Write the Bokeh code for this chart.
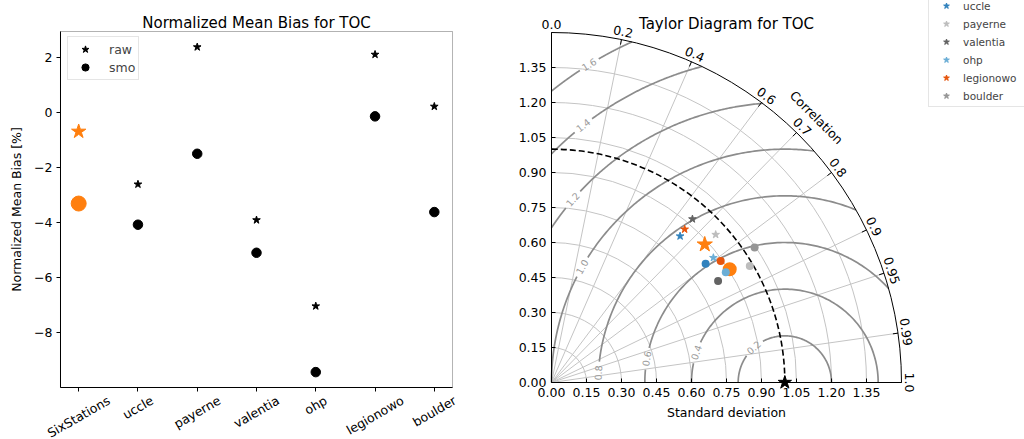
import numpy as np
from bokeh.plotting import figure
from bokeh.layouts import row
from bokeh.models import (ColumnDataSource, FactorRange, Range1d, FixedTicker, Label,
                          Legend, LegendItem, PrintfTickFormatter, BoxAnnotation)
from bokeh.core.properties import value
from bokeh.embed import file_html
from bokeh.resources import INLINE

FONT = "DejaVu Sans"

# ---------------- data ----------------
stations = ["SixStations", "uccle", "payerne", "valentia", "ohp", "legionowo", "boulder"]
nmb_raw = [-0.68, -2.60, 2.39, -3.90, -7.03, 2.12, 0.23]
nmb_smo = [-3.30, -4.07, -1.49, -5.09, -9.43, -0.13, -3.61]
nmb_ticks = [-8, -6, -4, -2, 0, 2]

# Taylor diagram: normalized standard deviation and correlation
std_raw = [0.884, 0.835, 0.947, 0.925, 0.876, 0.870, 0.880]
corr_raw = [0.743, 0.660, 0.743, 0.653, 0.792, 0.656, 0.745]
std_smo = [0.905, 0.834, 0.986, 0.836, 0.884, 0.893, 1.045]
corr_smo = [0.844, 0.792, 0.862, 0.854, 0.845, 0.812, 0.833]
ref_std = 1.0
std_max = 1.5
std_ticks = [0.00, 0.15, 0.30, 0.45, 0.60, 0.75, 0.90, 1.05, 1.20, 1.35]
corr_ticks = [0.0, 0.2, 0.4, 0.6, 0.7, 0.8, 0.9, 0.95, 0.99, 1.0]
rms_levels = [0.2, 0.4, 0.6, 0.8, 1.0, 1.2, 1.4, 1.6]

# ---------------- styles / layout ----------------
station_colors = ["#ff7f0e", "#3182bd", "#bdbdbd", "#636363", "#6baed6", "#e6550d", "#969696"]
rms_label_angle_deg = [131.6, 161.3, 170.2, 177.0, 150.3, 139.2, 128.1, 121.6]
TICK_FS = "12.5px"
H = 439                 # canvas height (frames fill the whole page)

# left panel geometry (bias axes box: y from -9.989 to 2.956, 31 px below the top)
B_BOT, B_TOP = -9.989, 2.956
PXY1 = 27.5             # px per % unit
W1 = 512
X_PAD = 0.819           # factor-range padding so the box spans 392 px of the 512 px frame
BOX_L, BOX_R = 0.193, 6.807
Y1_END = B_TOP + 31 / PXY1
Y1_START = Y1_END - H / PXY1

# Taylor geometry: origin at (39 px, 57 px) from the frame's left / bottom
PX = 233.333            # px per std unit
W2 = 512
T_X0, T_X1 = -39 / PX, (W2 - 39) / PX
T_Y0, T_Y1 = -57 / PX, (H - 57) / PX

# DejaVu Sans advance widths (em) for label layout estimates
CW = {"S": .635, "i": .278, "x": .592, "t": .392, "a": .613, "o": .612, "n": .634, "s": .521,
      "u": .634, "c": .550, "l": .278, "e": .615, "p": .635, "y": .592, "r": .411, "v": .592,
      "h": .634, "g": .635, "w": .818, "b": .635, "d": .635, "0": .636, "1": .636, "2": .636,
      "4": .636, "6": .636, "8": .636, ".": .318}


def text_em(s):
    return sum(CW.get(ch, 0.6) for ch in s)


def style_axis(ax):
    ax.major_label_text_font = FONT
    ax.major_label_text_font_size = TICK_FS
    ax.major_label_text_color = "black"
    ax.axis_label_text_font = FONT
    ax.axis_label_text_font_size = TICK_FS
    ax.axis_label_text_font_style = "normal"
    ax.axis_label_text_color = "black"
    ax.axis_line_color = "black"
    ax.major_tick_line_color = "black"
    ax.minor_tick_line_color = None


# =============== Left: normalized mean bias ===============
p1 = figure(x_range=FactorRange(factors=stations, range_padding=X_PAD, range_padding_units="absolute"),
            y_range=Range1d(Y1_START, Y1_END),
            frame_width=W1, frame_height=H,
            min_border_left=0, min_border_right=0, min_border_top=0, min_border_bottom=0,
            toolbar_location=None, output_backend="svg")
p1.grid.visible = False
p1.outline_line_color = None

for ax in (p1.xaxis[0], p1.yaxis[0]):
    style_axis(ax)
    ax.major_tick_out = 4
    ax.major_tick_in = 0
p1.xaxis.fixed_location = B_BOT
p1.xaxis.bounds = (BOX_L, BOX_R)
p1.xaxis.major_label_text_color = None
p1.yaxis.fixed_location = BOX_L
p1.yaxis.bounds = (B_BOT, B_TOP)
p1.yaxis.ticker = FixedTicker(ticks=nmb_ticks)
p1.yaxis.major_label_overrides = {t: (str(t).replace("-", "\u2212")) for t in nmb_ticks}
p1.yaxis.major_label_standoff = 4
p1.yaxis.axis_label = "Normalized Mean Bias [%]"
p1.yaxis.axis_label_standoff = 7

p1.add_layout(BoxAnnotation(left=BOX_L, right=BOX_R, bottom=B_BOT, top=B_TOP,
                            fill_alpha=0, line_color="black", line_width=1))

p1.add_layout(Label(x=3.5, y=B_TOP + 8.3 / PXY1, text="Normalized Mean Bias for TOC",
                    text_align="center", text_baseline="alphabetic", text_font=FONT,
                    text_font_size="15px", text_color="black"))

colors1 = [station_colors[0]] + ["black"] * (len(stations) - 1)
src1 = ColumnDataSource(dict(st=stations, raw=nmb_raw, smo=nmb_smo, color=colors1,
                             s_raw=[15] + [8] * (len(stations) - 1),
                             s_smo=[15] + [9.5] * (len(stations) - 1)))
r_raw1 = p1.scatter("st", "raw", source=src1, marker="star", size="s_raw",
                    fill_color="color", line_color="color")
r_smo1 = p1.scatter("st", "smo", source=src1, marker="circle", size="s_smo",
                    fill_color="color", line_color="color")

# rotated category labels, centred under their ticks (matplotlib-like)
fs = 12.5
lab_y = [B_BOT - (5.5 + (text_em(s) * fs * 0.5 + 14.5 * 0.866) / 2) / PXY1 for s in stations]
p1.text(x=stations, y=lab_y, text=stations, angle=np.pi / 6, text_align="center",
        text_baseline="middle", text_font=value(FONT), text_font_size=TICK_FS, text_color="black")

leg1 = Legend(items=[LegendItem(label="raw", renderers=[r_raw1], index=1),
                     LegendItem(label="smo", renderers=[r_smo1], index=1)],
              location=(67, H - 80), padding=3, spacing=0,
              glyph_width=28, glyph_height=18, label_height=18, label_standoff=10,
              label_text_font=FONT, label_text_font_size=TICK_FS,
              border_line_color="#cccccc", background_fill_alpha=0.8)
p1.add_layout(leg1)

# =============== Right: Taylor diagram ===============
p2 = figure(x_range=Range1d(T_X0, T_X1), y_range=Range1d(T_Y0, T_Y1),
            frame_width=W2, frame_height=H,
            min_border_left=0, min_border_right=0, min_border_top=0, min_border_bottom=0,
            toolbar_location=None, output_backend="svg")
p2.grid.visible = False
p2.outline_line_color = None

for ax in (p2.xaxis[0], p2.yaxis[0]):
    style_axis(ax)
    ax.fixed_location = 0
    ax.bounds = (0, std_max)
    ax.ticker = FixedTicker(ticks=std_ticks)
    ax.formatter = PrintfTickFormatter(format="%.2f")
    ax.major_tick_in = 4
    ax.major_tick_out = 0
p2.xaxis.axis_label = "Standard deviation"

# std-dev grid arcs and correlation rays
p2.arc(x=0, y=0, radius=std_ticks[1:], start_angle=0, end_angle=np.pi / 2,
       line_color="#c4c4c4", line_width=1)
th = np.arccos(np.array(corr_ticks))
p2.segment(x0=0, y0=0, x1=std_max * np.cos(th), y1=std_max * np.sin(th),
           line_color="#c4c4c4", line_width=1)

# RMS contours around the reference point
cxs, cys, lx, ly, la, lt = [], [], [], [], [], []
for R, phid in zip(rms_levels, rms_label_angle_deg):
    x_out = (std_max ** 2 - R ** 2 + ref_std ** 2) / (2 * ref_std)
    phi0 = 0.0 if ref_std + R <= std_max else np.arccos((x_out - ref_std) / R)
    phi1 = np.pi if R <= ref_std else np.arccos(-ref_std / R)
    phiL = np.radians(phid)
    txt = f"{R:.1f}"
    gap = (text_em(txt) * 9.5 / 2 + 3.5) / (R * PX)
    for a, b in ((phi0, phiL - gap), (phiL + gap, phi1)):
        if b > a:
            ph = np.linspace(a, b, 120)
            cxs.append(ref_std + R * np.cos(ph))
            cys.append(R * np.sin(ph))
    lx.append(ref_std + R * np.cos(phiL))
    ly.append(R * np.sin(phiL))
    la.append(phiL - np.pi / 2)
    lt.append(txt)
p2.multi_line(xs=cxs, ys=cys, line_color="#8c8c8c", line_width=1.7)
p2.text(x=lx, y=ly, text=lt, angle=la, text_align="center", text_baseline="middle",
        text_font=value(FONT), text_font_size="9.5px", text_color="#9a9a9a")

# outer boundary and correlation ticks
p2.arc(x=0, y=0, radius=std_max, start_angle=0, end_angle=np.pi / 2, line_color="black", line_width=1)
p2.segment(x0=std_max * np.cos(th), y0=std_max * np.sin(th),
           x1=(std_max - 0.022) * np.cos(th), y1=(std_max - 0.022) * np.sin(th),
           line_color="black", line_width=1)

# reference std circle
p2.arc(x=0, y=0, radius=ref_std, start_angle=0, end_angle=np.pi / 2,
       line_color="black", line_width=1.6, line_dash="6 3")


def polar(std, corr):
    std = np.array(std)
    corr = np.array(corr)
    return std * corr, std * np.sqrt(1 - corr ** 2)


xr, yr = polar(std_raw, corr_raw)
xs_, ys_ = polar(std_smo, corr_smo)
srcT = ColumnDataSource(dict(name=stations, xr=xr, yr=yr, xs=xs_, ys=ys_, color=station_colors,
                             s_star=[16] + [8] * (len(stations) - 1),
                             s_circ=[14] + [8] * (len(stations) - 1)))
src_six = ColumnDataSource({k: list(v[:1]) for k, v in srcT.data.items()})
src_st = ColumnDataSource({k: list(v[1:]) for k, v in srcT.data.items()})
p2.scatter("xs", "ys", source=src_six, marker="circle", size="s_circ", fill_color="color", line_color=None)
p2.scatter("xs", "ys", source=src_st, marker="circle", size="s_circ", fill_color="color", line_color=None)
r_star_st = p2.scatter("xr", "yr", source=src_st, marker="star", size="s_star",
                       fill_color="color", line_color="color")
r_star_six = p2.scatter("xr", "yr", source=src_six, marker="star", size="s_star",
                        fill_color="color", line_color="color")
p2.scatter([ref_std], [0], marker="star", size=14, fill_color="black", line_color="black")

# correlation labels
r_lab = 1.535
p2.text(x=r_lab * np.cos(th), y=r_lab * np.sin(th), text=[str(c) for c in corr_ticks],
        angle=th - np.pi / 2, text_align="center", text_baseline="middle",
        text_font=value(FONT), text_font_size=TICK_FS, text_color="black")
p2.add_layout(Label(x=1.606 * np.cos(np.pi / 4), y=1.606 * np.sin(np.pi / 4), text="Correlation",
                    angle=-np.pi / 4, text_align="center", text_baseline="middle",
                    text_font=FONT, text_font_size=TICK_FS, text_color="black"))

# title of the Taylor panel
p2.add_layout(Label(x=std_max / 2, y=359 / PX, text="Taylor Diagram for TOC", text_align="center",
                    text_baseline="alphabetic", text_font=FONT, text_font_size="15px",
                    text_color="black"))

items = [LegendItem(label=stations[0], renderers=[r_star_six], index=0)]
items += [LegendItem(label=s, renderers=[r_star_st], index=i) for i, s in enumerate(stations[1:])]
leg2 = Legend(items=items, location=(928 - W1, H - 107), padding=3, spacing=3,
              glyph_width=28, glyph_height=15, label_height=15, label_standoff=3,
              label_text_font=FONT, label_text_font_size="10.5px",
              border_line_color="#cccccc", background_fill_alpha=0.8)
p2.add_layout(leg2)

layout = row(p1, p2)
open("out.html", "w").write(file_html(layout, INLINE))
